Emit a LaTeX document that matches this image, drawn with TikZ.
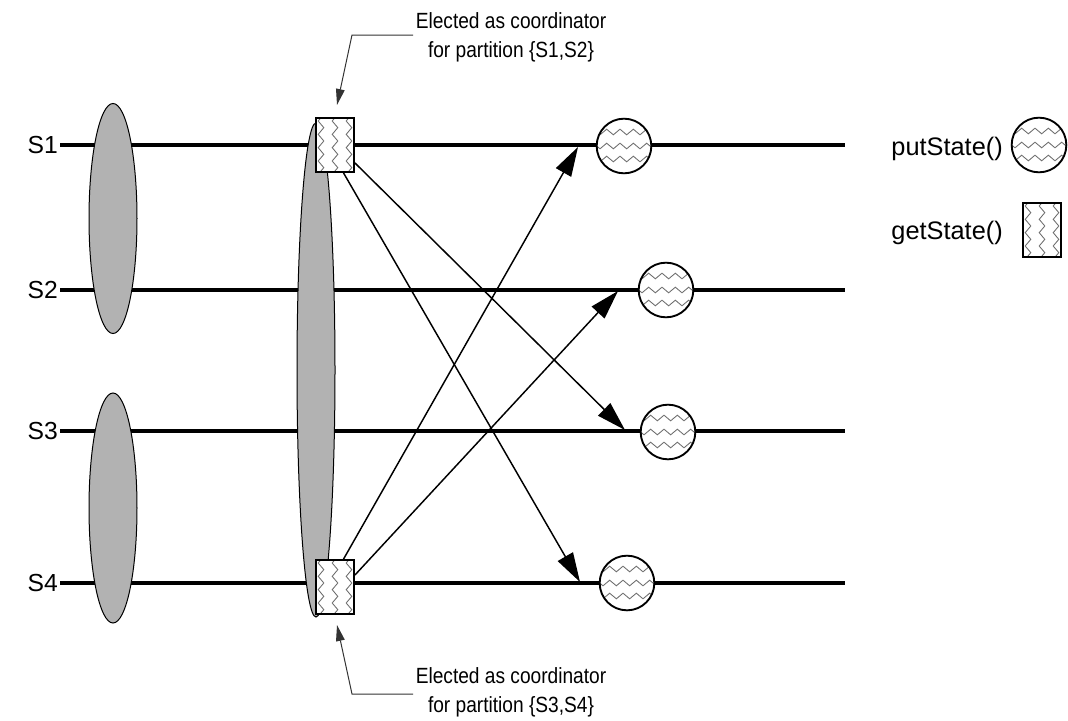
\documentclass[tikz,border=0pt]{standalone}
\usepackage{fontspec}
\setmainfont{Liberation Sans}
\newfontfamily\calloutfont[FakeStretch=0.87]{Liberation Sans}
\usetikzlibrary{shapes.geometric,arrows.meta,decorations.pathmorphing}
\definecolor{ellgray}{RGB}{178,178,178}
\definecolor{zzgray}{RGB}{110,110,110}
\begin{document}
\begin{tikzpicture}[x=0.75pt,y=-0.75pt,
  mainline/.style={line width=2.5pt},
  arr/.style={line width=1.1pt,-{Triangle[length=22pt,width=13pt]}},
  lead/.style={line width=0.75pt,black!80,-{Triangle[length=12pt,width=6.5pt]}},
  zz/.style={draw=zzgray,line width=0.65pt,decorate,decoration={zigzag,segment length=10pt,amplitude=2.1pt}},
  putst/.style={circle,draw,line width=1.4pt,fill=white,inner sep=0pt,minimum size=41pt,
    path picture={\foreach \dy in {-14,0,13}{\draw[zz] ([shift={(-34,\dy)}]path picture bounding box.center) -- ([shift={(34,\dy)}]path picture bounding box.center);}}},
  getst/.style={rectangle,draw,line width=1.4pt,fill=white,inner sep=0pt,minimum width=28.5pt,minimum height=40.5pt,
    path picture={\foreach \dx in {-14,0,14}{\draw[zz] ([shift={(\dx,-34)}]path picture bounding box.center) -- ([shift={(\dx,34)}]path picture bounding box.center);}}},
  ell/.style={ellipse,draw,line width=0.75pt,fill=ellgray,inner sep=0pt},
  slab/.style={font=\fontsize{18.5}{22}\selectfont,inner sep=1.5pt,anchor=east},
  leg/.style={font=\fontsize{19}{23}\selectfont,inner sep=0pt,anchor=east},
  callout/.style={font=\calloutfont\fontsize{16.5}{21.75}\selectfont,align=center,inner sep=0pt,anchor=north}
]
\path[use as bounding box] (0,0) rectangle (1068,721);

% process labels and timelines
\node[slab] (ls1) at (60,145) {S1};
\node[slab] (ls2) at (60,290) {S2};
\node[slab] (ls3) at (60,431) {S3};
\node[slab] (ls4) at (60,583) {S4};
\coordinate (e1) at (845,145);
\coordinate (e2) at (845,290);
\coordinate (e3) at (845,431);
\coordinate (e4) at (845,583);
\draw[mainline] (ls1) -- (e1);
\draw[mainline] (ls2) -- (e2);
\draw[mainline] (ls3) -- (e3);
\draw[mainline] (ls4) -- (e4);

% partitions
\node[ell,minimum width=36pt,minimum height=172.5pt] (E12) at (113,218.5) {};
\node[ell,minimum width=36pt,minimum height=172.5pt] (E34) at (113,508) {};
\node[ell,minimum width=28.5pt,minimum height=370.5pt] (Eall) at (316,370) {};

% getState squares
\node[getst] (g1) at (335,145) {};
\node[getst] (g4) at (335,587) {};

% putState circles
\node[putst] (p1) at (624,146) {};
\node[putst] (p2) at (666,290) {};
\node[putst] (p3) at (668,432) {};
\node[putst] (p4) at (627,583) {};

% arrow targets
\coordinate (t1) at (578,147);
\coordinate (t2) at (618,291);
\coordinate (t3) at (625,430);
\coordinate (t4) at (580,582);

\draw[arr] (g1.-42) -- (t3);
\draw[arr] (g1.-73) -- (t4);
\draw[arr] (g4.73) -- (t1);
\draw[arr] (g4.31) -- (t2);

% legend
\node[leg] (lput) at (1003,149) {putState()};
\node[putst] (pL) at (1039,145) {};
\node[leg] (lget) at (1003,233) {getState()};
\node[getst] (gL) at (1042,230) {};

% callouts
\node[callout] (n1) at (511,12) {Elected as coordinator\\for partition \{S1,S2\}};
\node[callout] (n4) at (511,667) {Elected as coordinator\\for partition \{S3,S4\}};
\coordinate (m1) at (413,35);
\coordinate (k1) at (352,35);
\coordinate (c1) at (337,105);
\coordinate (m4) at (413,694);
\coordinate (k4) at (352,694);
\coordinate (c4) at (337,625);
\draw[lead] (m1) -- (k1) -- (c1);
\draw[lead] (m4) -- (k4) -- (c4);
\end{tikzpicture}
\end{document}
